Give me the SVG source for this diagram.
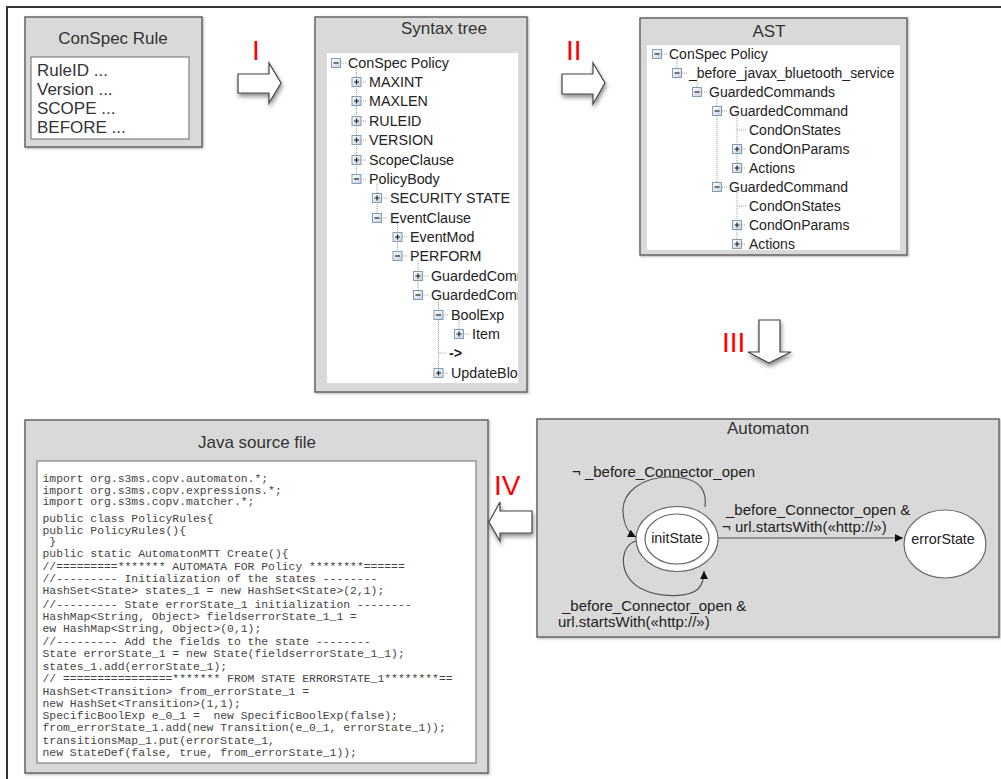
<svg xmlns="http://www.w3.org/2000/svg" width="1001" height="779" viewBox="0 0 1001 779">
<style>
.frame{fill:none;stroke:#333;stroke-width:2}
.panel{fill:#d9d9d9;stroke:#666;stroke-width:1.5}
.inner{fill:#fff;stroke:#808080;stroke-width:1.2}
.title{font-family:"Liberation Sans",Arial,sans-serif;font-size:17px;fill:#333;text-anchor:middle}
.rule{font-family:"Liberation Sans",Arial,sans-serif;font-size:17px;fill:#333}
.tree{font-family:"Liberation Sans",Arial,sans-serif;font-size:14.3px;fill:#222}
.ast{font-family:"Liberation Sans",Arial,sans-serif;font-size:14px;fill:#222}
.code{font-family:"Liberation Mono","Courier New",monospace;font-size:11.4px;fill:#444;white-space:pre}
.lbl{font-family:"Liberation Sans",Arial,sans-serif;font-size:15px;fill:#222}
.st{font-family:"Liberation Sans",Arial,sans-serif;font-size:14.3px;fill:#222;text-anchor:middle}
.roman{font-family:"Liberation Sans",Arial,sans-serif;font-size:28px;fill:#ff0000}
.tl{stroke:#a0a0a0;stroke-width:1;stroke-dasharray:1,1;fill:none}
.bigarrow{fill:#fff;stroke:#444;stroke-width:1.2}
.edge{fill:none;stroke:#555;stroke-width:1.2}
.state{fill:#fff;stroke:#666;stroke-width:1.2}
</style>
<defs>
<filter id="sh" x="-20%" y="-20%" width="150%" height="160%">
<feDropShadow dx="1" dy="3" stdDeviation="2" flood-color="#000" flood-opacity="0.45"/>
</filter>
<filter id="psh" x="-5%" y="-5%" width="110%" height="110%">
<feDropShadow dx="1" dy="1" stdDeviation="0.8" flood-color="#000" flood-opacity="0.3"/>
</filter>
<linearGradient id="btng" x1="0" y1="0" x2="1" y2="1">
<stop offset="0" stop-color="#ffffff"/>
<stop offset="1" stop-color="#c8d0dc"/>
</linearGradient>
<g id="bm">
<rect x="-4.5" y="-4.5" width="9" height="9" fill="url(#btng)" stroke="#7f9db9" stroke-width="1"/>
<path d="M-2.5,0H2.5" stroke="#222" stroke-width="1.2"/>
</g>
<g id="bp">
<rect x="-4.5" y="-4.5" width="9" height="9" fill="url(#btng)" stroke="#7f9db9" stroke-width="1"/>
<path d="M-2.5,0H2.5M0,-2.5V2.5" stroke="#222" stroke-width="1.2"/>
</g>
<clipPath id="clipSyn"><rect x="327" y="53" width="191" height="330"/></clipPath>
<marker id="ah" viewBox="0 0 10 10" refX="10" refY="5" markerWidth="11" markerHeight="8" markerUnits="userSpaceOnUse" orient="auto">
<path d="M0,0L10,5L0,10Z" fill="#111"/>
</marker>
</defs>

<rect width="1001" height="779" fill="#fff"/>
<path class="frame" d="M7,779V7H1001"/>

<!-- ConSpec Rule -->
<g id="conspec-rule">
<rect class="panel" x="25" y="17" width="177" height="130" filter="url(#psh)"/>
<text class="title" x="113" y="44">ConSpec Rule</text>
<rect class="inner" x="31" y="57" width="158" height="82"/>
<text class="rule" x="37" y="76">RuleID ...</text>
<text class="rule" x="37" y="95">Version ...</text>
<text class="rule" x="37" y="114">SCOPE ...</text>
<text class="rule" x="37" y="133">BEFORE ...</text>
</g>

<!-- Syntax tree -->
<g id="syntax-tree">
<rect class="panel" x="315" y="17" width="212" height="375" filter="url(#psh)"/>
<text class="title" x="444" y="34">Syntax tree</text>
<rect x="327" y="53" width="191" height="330" fill="#fff"/>
<g clip-path="url(#clipSyn)">
<path class="tl" d="M356.5,68V179M377,184V218M397.5,223V256M418,261V295M438.5,300V373M459,320V334"/>
<path class="tl" d="M341,63H346M361,82H367M361,101H367M361,121H367M361,140H367M361,160H367M361,179H367M381.5,198H388M381.5,218H388M402,237H408M402,256H408M422.5,276H429M422.5,295H429M443,315H449M463.5,334H470M438.5,353H447M443,373H449"/>
<use href="#bm" x="336" y="63"/>
<use href="#bp" x="356.5" y="82"/>
<use href="#bp" x="356.5" y="101"/>
<use href="#bp" x="356.5" y="121"/>
<use href="#bp" x="356.5" y="140"/>
<use href="#bp" x="356.5" y="160"/>
<use href="#bm" x="356.5" y="179"/>
<use href="#bp" x="377" y="198"/>
<use href="#bm" x="377" y="218"/>
<use href="#bp" x="397.5" y="237"/>
<use href="#bm" x="397.5" y="256"/>
<use href="#bp" x="418" y="276"/>
<use href="#bm" x="418" y="295"/>
<use href="#bm" x="438.5" y="315"/>
<use href="#bp" x="459" y="334"/>
<use href="#bp" x="438.5" y="373"/>
<text class="tree" x="348" y="68">ConSpec Policy</text>
<text class="tree" x="369" y="87">MAXINT</text>
<text class="tree" x="369" y="106">MAXLEN</text>
<text class="tree" x="369" y="126">RULEID</text>
<text class="tree" x="369" y="145">VERSION</text>
<text class="tree" x="369" y="165">ScopeClause</text>
<text class="tree" x="369" y="184">PolicyBody</text>
<text class="tree" x="390" y="203">SECURITY STATE</text>
<text class="tree" x="390" y="223">EventClause</text>
<text class="tree" x="410" y="242">EventMod</text>
<text class="tree" x="410" y="261">PERFORM</text>
<text class="tree" x="431" y="281">GuardedCommand</text>
<text class="tree" x="431" y="300">GuardedCommand</text>
<text class="tree" x="451" y="320">BoolExp</text>
<text class="tree" x="472" y="339">Item</text>
<text class="tree" x="449" y="358" font-weight="bold">-&gt;</text>
<text class="tree" x="451" y="378">UpdateBlock</text>
</g>
</g>

<!-- AST -->
<g id="ast">
<rect class="panel" x="640" y="18" width="267" height="237" filter="url(#psh)"/>
<text class="title" x="769" y="37">AST</text>
<rect x="647" y="45" width="253" height="205" fill="#fff"/>
<path class="tl" d="M677,59V73M697,78V92M717,97V187M737,116V168M737,192V244"/>
<path class="tl" d="M662,54H667M682,73H687M702,92H707M722,111H727M722,187H727M737,130H746M742,149H746M742,168H746M737,206H746M742,225H746M742,244H746"/>
<use href="#bm" x="657" y="54"/>
<use href="#bm" x="677" y="73"/>
<use href="#bm" x="697" y="92"/>
<use href="#bm" x="717" y="111"/>
<use href="#bp" x="737" y="149"/>
<use href="#bp" x="737" y="168"/>
<use href="#bm" x="717" y="187"/>
<use href="#bp" x="737" y="225"/>
<use href="#bp" x="737" y="244"/>
<text class="ast" x="669" y="59">ConSpec Policy</text>
<text class="ast" x="689" y="78">_before_javax_bluetooth_service</text>
<text class="ast" x="709" y="97">GuardedCommands</text>
<text class="ast" x="729" y="116">GuardedCommand</text>
<text class="ast" x="749" y="135">CondOnStates</text>
<text class="ast" x="749" y="154">CondOnParams</text>
<text class="ast" x="749" y="173">Actions</text>
<text class="ast" x="729" y="192">GuardedCommand</text>
<text class="ast" x="749" y="211">CondOnStates</text>
<text class="ast" x="749" y="230">CondOnParams</text>
<text class="ast" x="749" y="249">Actions</text>
</g>

<!-- Java source file -->
<g id="java-source">
<rect class="panel" x="25" y="420" width="463" height="353" filter="url(#psh)"/>
<text class="title" x="257" y="448">Java source file</text>
<rect class="inner" x="37" y="461" width="439" height="302"/>
<text class="code" x="42.5" y="482">import org.s3ms.copv.automaton.*;</text>
<text class="code" x="42.5" y="494">import org.s3ms.copv.expressions.*;</text>
<text class="code" x="42.5" y="505">import org.s3ms.copv.matcher.*;</text>
<text class="code" x="42.5" y="522">public class PolicyRules{</text>
<text class="code" x="42.5" y="534">public PolicyRules(){</text>
<text class="code" x="42.5" y="545"> }</text>
<text class="code" x="42.5" y="557">public static AutomatonMTT Create(){</text>
<text class="code" x="42.5" y="570">//=========******* AUTOMATA FOR Policy ********======</text>
<text class="code" x="42.5" y="582">//--------- Initialization of the states --------</text>
<text class="code" x="42.5" y="594">HashSet&lt;State&gt; states_1 = new HashSet&lt;State&gt;(2,1);</text>
<text class="code" x="42.5" y="608">//--------- State errorState_1 initialization --------</text>
<text class="code" x="42.5" y="620">HashMap&lt;String, Object&gt; fieldserrorState_1_1 =</text>
<text class="code" x="42.5" y="632">ew HashMap&lt;String, Object&gt;(0,1);</text>
<text class="code" x="42.5" y="645">//--------- Add the fields to the state --------</text>
<text class="code" x="42.5" y="657">State errorState_1 = new State(fieldserrorState_1_1);</text>
<text class="code" x="42.5" y="670">states_1.add(errorState_1);</text>
<text class="code" x="42.5" y="682">// ================******* FROM STATE ERRORSTATE_1********==</text>
<text class="code" x="42.5" y="695">HashSet&lt;Transition&gt; from_errorState_1 =</text>
<text class="code" x="42.5" y="707">new HashSet&lt;Transition&gt;(1,1);</text>
<text class="code" x="42.5" y="719">SpecificBoolExp e_0_1 =  new SpecificBoolExp(false);</text>
<text class="code" x="42.5" y="731">from_errorState_1.add(new Transition(e_0_1, errorState_1));</text>
<text class="code" x="42.5" y="744">transitionsMap_1.put(errorState_1,</text>
<text class="code" x="42.5" y="756">new StateDef(false, true, from_errorState_1));</text>
</g>

<!-- Automaton -->
<g id="automaton">
<rect class="panel" x="537" y="419" width="462" height="218" filter="url(#psh)"/>
<text class="title" x="768" y="434">Automaton</text>
</g>

<g id="initState">
<ellipse class="state" cx="677" cy="539" rx="41" ry="32.5"/>
<ellipse class="state" cx="677" cy="539" rx="32" ry="25"/>
<text class="st" x="677" y="543">initState</text>
</g>

<g id="errorState">
<ellipse class="state" cx="945" cy="544" rx="41" ry="34"/>
<text class="st" x="943" y="544">errorState</text>
</g>

<!-- connectors -->
<g id="connectors">
<path class="edge" d="M718,538H903" marker-end="url(#ah)"/>
<path class="edge" d="M705,507C708,484 692,477 670,477C642,477 622,492 623,512C624,526 628,533 636,537" marker-end="url(#ah)"/>
<path class="edge" d="M636,541C620,545 617,575 640,588C660,599 690,597 698,589C703,584 704,578 704,571" marker-end="url(#ah)"/>
<text class="lbl" x="572" y="477">¬ _before_Connector_open</text>
<text class="lbl" x="726" y="515">_before_Connector_open &amp;</text>
<text class="lbl" x="722" y="532">¬ url.startsWith(«http://»)</text>
<text class="lbl" x="562" y="611">_before_Connector_open &amp;</text>
<text class="lbl" x="558" y="627">url.startsWith(«http://»)</text>

<path class="bigarrow" filter="url(#sh)" d="M238,74H269V63L281,83L269,103V93H238Z"/>
<path class="bigarrow" filter="url(#sh)" d="M562,74H593V63L605,83L593,104V94H562Z"/>
<path class="bigarrow" filter="url(#sh)" d="M759,320H780V352H791L769,363L748,352H759Z"/>
<path class="bigarrow" filter="url(#sh)" d="M532,511H500V502L489,522L500,541V533H532Z"/>
<text class="roman" x="252" y="60">I</text>
<text class="roman" x="566" y="60">II</text>
<text class="roman" x="722" y="352">III</text>
<text class="roman" x="494" y="495">IV</text>
</g>
</svg>
